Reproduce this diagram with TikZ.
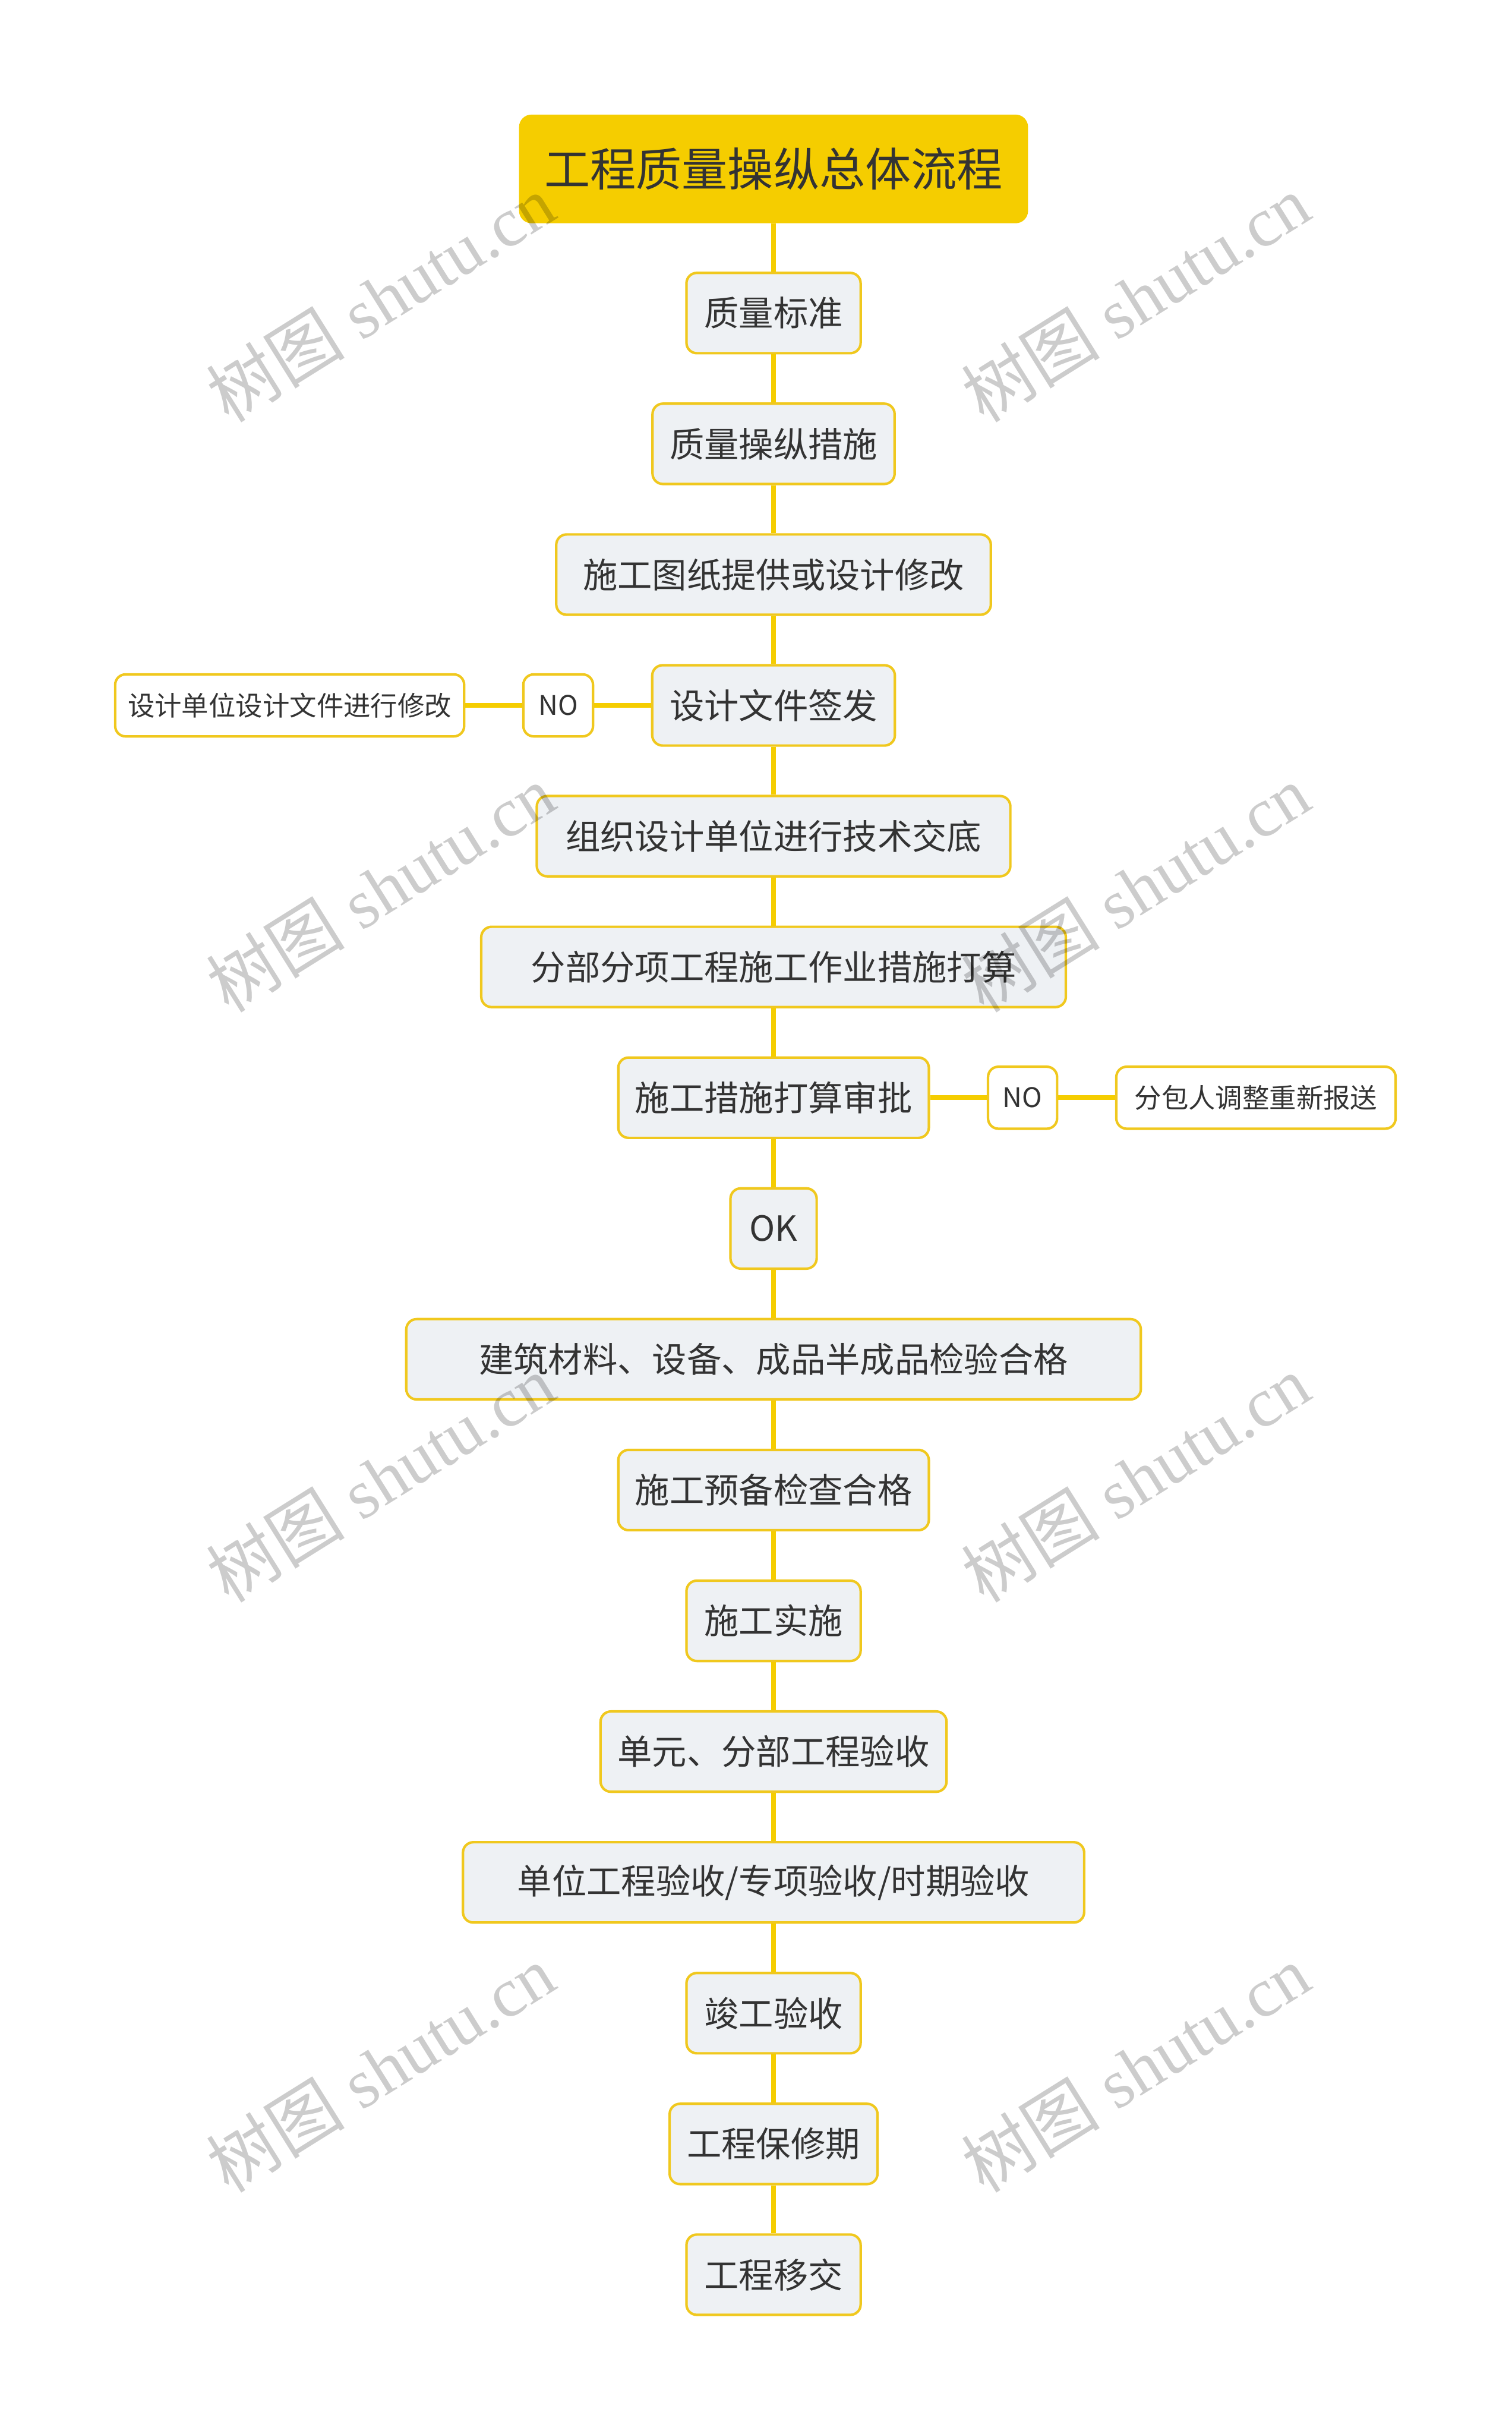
\documentclass[tikz,border=0pt]{standalone}
\usepackage{fontspec}
\setmainfont{Noto Sans CJK SC}
\newfontfamily\markfont{Liberation Serif}
\newfontfamily\markcjk{Noto Sans CJK SC}
\usetikzlibrary{positioning}
\definecolor{titleyellow}{RGB}{245,205,0}
\definecolor{lineyellow}{RGB}{245,205,0}
\definecolor{borderyellow}{RGB}{240,200,30}
\definecolor{nodegray}{RGB}{238,241,244}
\definecolor{textgray}{RGB}{51,51,51}
\tikzset{
  titlebox/.style={
    rounded corners=6pt,
    fill=titleyellow,
    text=textgray,
    align=center,
    minimum height=1.84cm,
    inner sep=0pt,
    font=\fontsize{22.1pt}{26pt}\selectfont
  },
  stepbox/.style={
    rounded corners=5pt,
    draw=borderyellow,
    line width=1.2pt,
    fill=nodegray,
    text=textgray,
    align=center,
    minimum height=1.36cm,
    inner sep=0pt,
    font=\fontsize{16.7pt}{20pt}\selectfont
  },
  sidebox/.style={
    rounded corners=5pt,
    draw=borderyellow,
    line width=1.2pt,
    fill=white,
    text=textgray,
    align=center,
    minimum height=1.05cm,
    inner sep=0pt,
    font=\fontsize{13pt}{16pt}\selectfont
  },
  link/.style={
    line width=2.4pt,
    lineyellow
  },
  wmark/.style={
    rotate=32,
    text=black,
    text opacity=0.2,
    font=\markfont\fontsize{33.5pt}{38pt}\selectfont
  }
}
\begin{document}
\begin{tikzpicture}[node distance=0.812cm]
\useasboundingbox (0,0) rectangle (25.6,-41.21);
\node[titlebox,minimum width=8.62cm] (t) at (13.10,-2.86) {工程质量操纵总体流程};
\node[stepbox,below=of t,minimum width=2.95cm] (a) {质量标准};
\node[stepbox,below=of a,minimum width=4.10cm] (b) {质量操纵措施};
\node[stepbox,below=of b,minimum width=7.36cm] (c) {施工图纸提供或设计修改};
\node[stepbox,below=of c,minimum width=4.11cm] (d) {设计文件签发};
\node[stepbox,below=of d,minimum width=8.02cm] (e) {组织设计单位进行技术交底};
\node[stepbox,below=of e,minimum width=9.90cm] (f) {分部分项工程施工作业措施打算};
\node[stepbox,below=of f,minimum width=5.26cm] (g) {施工措施打算审批};
\node[stepbox,below=of g,minimum width=1.46cm] (h) {OK};
\node[stepbox,below=of h,minimum width=12.44cm] (i) {建筑材料、设备、成品半成品检验合格};
\node[stepbox,below=of i,minimum width=5.26cm] (j) {施工预备检查合格};
\node[stepbox,below=of j,minimum width=2.95cm] (k) {施工实施};
\node[stepbox,below=of k,minimum width=5.86cm] (l) {单元、分部工程验收};
\node[stepbox,below=of l,minimum width=10.52cm] (m) {单位工程验收/专项验收/时期验收};
\node[stepbox,below=of m,minimum width=2.95cm] (n) {竣工验收};
\node[stepbox,below=of n,minimum width=3.52cm] (o) {工程保修期};
\node[stepbox,below=of o,minimum width=2.95cm] (p) {工程移交};
% side branches
\node[sidebox,left=0.96cm of d,minimum width=1.18cm] (noa) {NO};
\node[sidebox,left=0.96cm of noa,minimum width=5.91cm] (fixa) {设计单位设计文件进行修改};
\node[sidebox,right=0.96cm of g,minimum width=1.17cm] (nob) {NO};
\node[sidebox,right=0.96cm of nob,minimum width=4.73cm] (fixb) {分包人调整重新报送};
\foreach \x/\y in {t/a,a/b,b/c,c/d,d/e,e/f,f/g,g/h,h/i,i/j,j/k,k/l,l/m,m/n,n/o,o/p}
  \draw[link] (\x) -- (\y);
\draw[link] (d) -- (noa);
\draw[link] (noa) -- (fixa);
\draw[link] (g) -- (nob);
\draw[link] (nob) -- (fixb);
% watermarks
\foreach \wy [count=\r] in {-5.05,-15.04,-25.03,-35.02} {
  \node[wmark] (wl\r) at (6.44,\wy) {{\markcjk 树图} shutu.cn};
  \node[wmark] (wr\r) at (19.23,\wy) {{\markcjk 树图} shutu.cn};
}
\end{tikzpicture}
\end{document}
